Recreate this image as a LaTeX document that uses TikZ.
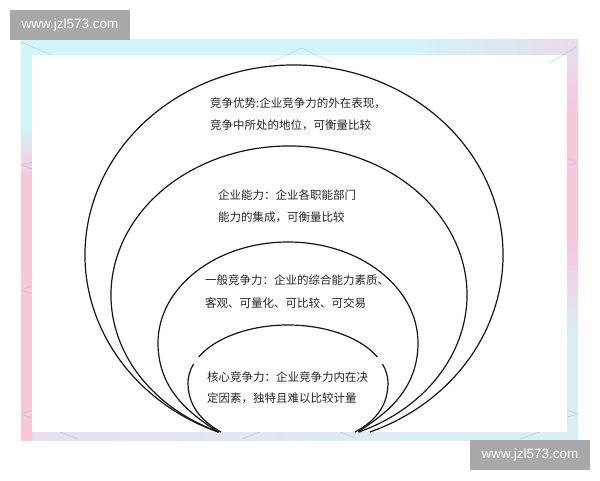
\documentclass[tikz,border=0pt]{standalone}
\usepackage{fontspec}
\setmainfont{Liberation Sans}
\newfontfamily\cjk{Noto Sans CJK SC}
\usetikzlibrary{calc}
\definecolor{cyanc}{HTML}{D3F4F9}
\definecolor{pinkc}{HTML}{F8C7D9}
\definecolor{lavc}{HTML}{E6DDEC}
\definecolor{lbluec}{HTML}{DAEDF5}
\definecolor{lavb}{HTML}{E5E1F0}
\definecolor{wmgray}{HTML}{A8A8A8}
\definecolor{decoc}{HTML}{B9CCD8}
\definecolor{inkc}{HTML}{151515}
\definecolor{txtc}{HTML}{262626}
\pgfdeclareverticalshading{leftfr}{100bp}{color(0bp)=(pinkc); color(58bp)=(pinkc); color(64bp)=(cyanc); color(100bp)=(cyanc)}
\pgfdeclareverticalshading{rightfr}{100bp}{color(0bp)=(lbluec); color(38bp)=(lbluec); color(50bp)=(pinkc); color(66bp)=(pinkc); color(73bp)=(lavc); color(100bp)=(lavc)}
\pgfdeclarehorizontalshading{topfr}{100bp}{color(0bp)=(cyanc); color(60bp)=(cyanc); color(74bp)=(lavc); color(100bp)=(lavc)}
\pgfdeclarehorizontalshading{botfr}{100bp}{color(0bp)=(lavb); color(30bp)=(lavb); color(60bp)=(lbluec); color(100bp)=(lbluec)}
\tikzset{
  curve/.style={draw=inkc, line width=1.2pt},
  lbl/.style={anchor=base west, inner sep=0pt, font=\cjk\fontsize{11.5}{14}\selectfont, text=txtc},
  wmark/.style={fill=wmgray, minimum width=120pt, minimum height=30pt, inner sep=0pt, text=white, font=\fontsize{13.5}{16}\selectfont},
  deco/.style={draw=decoc, line width=0.6pt, opacity=0.7}
}
\begin{document}
\begin{tikzpicture}[x=1pt,y=1pt]
\useasboundingbox (0,0) rectangle (600,480);
\fill[white] (0,0) rectangle (600,480);
% frame
\shade[shading=topfr] (21,425) rectangle (578,440);
\shade[shading=botfr] (21,40) rectangle (578,48);
\shade[shading=leftfr] (21,40) rectangle (32,440);
\shade[shading=rightfr] (567,40) rectangle (578,440);
\fill[white] (32,48) rectangle (567,425);
% faint decoration lines
\draw[deco] (21,438) -- (52,425);
\draw[deco] (269,417) -- (302,432) -- (333,417);
\draw[deco] (550,417) -- (578,434);
\draw[deco] (32,318) -- (21,315) -- (32,311);
\draw[deco] (32,194) -- (21,190) -- (32,186);
\draw[deco] (32,70) -- (21,66) -- (32,62);
\draw[deco] (567,322) -- (578,318) -- (567,313);
\draw[deco] (567,70) -- (578,66) -- (567,63);
\draw[deco] (60,48) -- (78,41);
\draw[deco] (242,41) -- (260,48);
\draw[deco] (340,48) -- (355,42);
\draw[deco] (520,41) -- (540,48);
% watermarks
\node[wmark] (wm1) at (70,455) {www.jzl573.com};
\node[wmark] (wm2) at (530,25) {www.jzl573.com};
% curves
\draw[curve] ($(294,225)+(-68.7:209 and 190)$) arc[start angle=-68.7, end angle=248.7, x radius=209, y radius=190];
\draw[curve] ($(289,185)+(-66.9:178 and 149)$) arc[start angle=-66.9, end angle=246.9, x radius=178, y radius=149];
\draw[curve] (218,48) .. controls (198,62) and (158,85) .. (158,137)
   arc[start angle=180, end angle=0, x radius=130, y radius=101]
   .. controls (418,85) and (378,62) .. (358,48);
\draw[curve] (221,48) .. controls (207,56) and (188,70) .. (188,97)
   arc[start angle=180, end angle=160.9, x radius=100, y radius=58];
\draw[curve] (355,48) .. controls (370,56) and (388,70) .. (388,97)
   arc[start angle=0, end angle=19.1, x radius=100, y radius=58];
\draw[curve] ($(288,97)+(26.6:100 and 58)$) arc[start angle=26.6, end angle=153.4, x radius=100, y radius=58];
% texts
\node[lbl] (t1) at (210,372.5) {竞争优势:企业竞争力的外在表现，};
\node[lbl] (t2) at (210,350.5) {竞争中所处的地位，可衡量比较};
\node[lbl] (t3) at (218,280.5) {企业能力：企业各职能部门};
\node[lbl] (t4) at (218,258.5) {能力的集成，可衡量比较};
\node[lbl] (t5) at (205,195.5) {一般竞争力：企业的综合能力素质、};
\node[lbl] (t6) at (205,172.5) {客观、可量化、可比较、可交易};
\node[lbl] (t7) at (207,98.5) {核心竞争力：企业竞争力内在决};
\node[lbl] (t8) at (207,77.5) {定因素，独特且难以比较计量};
\end{tikzpicture}
\end{document}
